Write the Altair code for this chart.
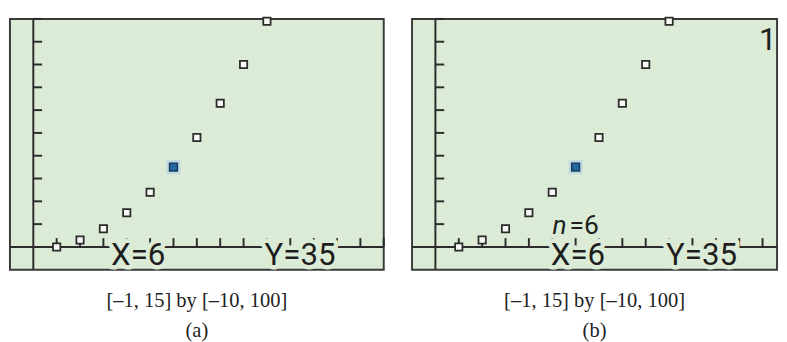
import altair as alt
import pandas as pd

# ---- data ----
n_values = [1, 2, 3, 4, 5, 6, 7, 8, 9, 10]
y_values = [0, 3, 8, 15, 24, 35, 48, 63, 80, 99]
selected_n = 6

y_domain = [-10, 100]
x_domain_a = [-1, 15]
x_domain_b = [-1, 14.62]          # panel (b) is cut off at the right edge

x_tick_values = list(range(1, 16))
y_tick_values = [10, 20, 30, 40, 50, 60, 70, 80, 90, 100]

# calculator read-out texts (data coordinates)
labels_a_text = ["X=6", "Y=35"]
labels_a_x = [4.49, 11.42]
labels_a_y = [-8.0, -8.0]

labels_b_text = ["X=6", "Y=35", "1"]
labels_b_x = [6.1, 11.39, 14.22]
labels_b_y = [-8.0, -8.0, 86.4]
n_label_x = [5.7]
n_label_y = [5.6]

captions = ["[\u20131, 15] by [\u201310, 100]", "[\u20131, 15] by [\u201310, 100]"]
panel_tags = ["(a)", "(b)"]

BG = "#dbebd6"
INK = "#2b2b2b"
CALC_FONT = "Roboto"


def panel(xdom, width, lab_text, lab_x, lab_y, caption, tag, with_n):
    xs = alt.Scale(domain=xdom, nice=False, zero=False)
    ysc = alt.Scale(domain=y_domain, nice=False, zero=False)

    def X(f="x"):
        return alt.X(f"{f}:Q", scale=xs, axis=None)

    def Y(f="y"):
        return alt.Y(f"{f}:Q", scale=ysc, axis=None)

    pts = pd.DataFrame({"x": n_values, "y": y_values})
    sel = pts[pts["x"] == selected_n]
    others = pts[pts["x"] != selected_n]

    xaxis = alt.Chart(pd.DataFrame({"x": [xdom[0]], "x2": [xdom[1]], "y": [0]})).mark_rule(
        color=INK, strokeWidth=2).encode(x=X(), x2="x2", y=Y())
    yaxis = alt.Chart(pd.DataFrame({"x": [0], "y": [y_domain[0]], "y2": [y_domain[1]]})).mark_rule(
        color=INK, strokeWidth=2).encode(x=X(), y=Y(), y2="y2")

    xt = [v for v in x_tick_values if v <= xdom[1]]
    xticks = alt.Chart(pd.DataFrame({"x": xt, "y": [0] * len(xt)})).mark_tick(
        orient="vertical", size=9, thickness=2, color=INK, yOffset=-4.5, opacity=1
    ).encode(x=X(), y=Y())
    yticks = alt.Chart(pd.DataFrame({"x": [0] * len(y_tick_values), "y": y_tick_values})).mark_tick(
        orient="horizontal", size=9, thickness=2, color=INK, xOffset=4.5, opacity=1
    ).encode(x=X(), y=Y())

    lab = pd.DataFrame({"x": lab_x, "y": lab_y, "t": lab_text})
    mask = alt.Chart(lab).mark_text(
        font=CALC_FONT, fontSize=32, baseline="alphabetic", align="center",
        fill=BG, stroke=BG, strokeWidth=9, strokeJoin="round"
    ).encode(x=X(), y=Y(), text="t:N")
    text = alt.Chart(lab).mark_text(
        font=CALC_FONT, fontSize=32, baseline="alphabetic", align="center", color="#1e1e1e"
    ).encode(x=X(), y=Y(), text="t:N")

    pts_layer = alt.Chart(others).mark_point(
        shape="square", size=56, filled=True, fill="#f7faf5", stroke=INK,
        strokeWidth=1.8, opacity=1
    ).encode(x=X(), y=Y())
    halo = alt.Chart(sel).mark_point(
        shape="square", size=210, filled=True, fill="#b9d6e6", opacity=0.75, strokeWidth=0
    ).encode(x=X(), y=Y())
    sel_layer = alt.Chart(sel).mark_point(
        shape="square", size=64, filled=True, fill="#2468a2", stroke="#183d5e",
        strokeWidth=1.6, opacity=1
    ).encode(x=X(), y=Y())

    layers = [xaxis, yaxis, xticks, yticks, mask, text, pts_layer, halo, sel_layer]

    if with_n:
        nd = pd.DataFrame({"x": n_label_x, "y": n_label_y})
        n_it = alt.Chart(nd.assign(t="n")).mark_text(
            font=CALC_FONT, fontSize=27, fontStyle="italic", baseline="alphabetic",
            align="right", color="#1e1e1e", dx=-2
        ).encode(x=X(), y=Y(), text="t:N")
        n_eq = alt.Chart(nd.assign(t="=6")).mark_text(
            font=CALC_FONT, fontSize=27, baseline="alphabetic", align="left", color="#1e1e1e", dx=1
        ).encode(x=X(), y=Y(), text="t:N")
        layers += [n_it, n_eq]

    return alt.layer(*layers).properties(
        width=width, height=257,
        view=alt.ViewBackground(fill=BG, stroke="#3a3a3a", strokeWidth=2),
        title=alt.TitleParams(
            text=caption, subtitle=tag, orient="bottom", anchor="middle",
            font="Liberation Serif", fontSize=21, fontWeight="normal", color="#222222",
            subtitleFont="Liberation Serif", subtitleFontSize=21, subtitleColor="#222222",
            offset=20, subtitlePadding=10,
        ),
    )


pa = panel(x_domain_a, 383, labels_a_text, labels_a_x, labels_a_y, captions[0], panel_tags[0], False)
pb = panel(x_domain_b, 374, labels_b_text, labels_b_x, labels_b_y, captions[1], panel_tags[1], True)

chart = alt.hconcat(pa, pb, spacing=25).properties(
    padding={"left": 0, "top": 0, "right": 0, "bottom": 0}
).configure(background="white")

chart.save("out.html", embed_options={"renderer": "svg", "actions": False})
